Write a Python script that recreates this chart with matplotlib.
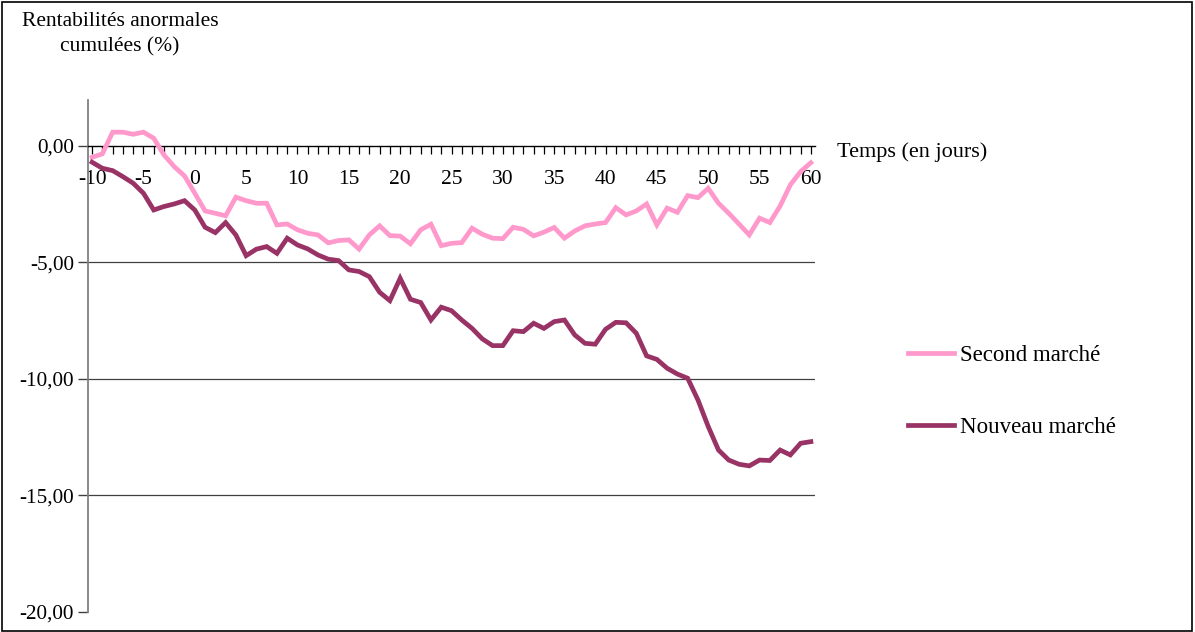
import matplotlib
matplotlib.use("Agg")
import matplotlib.pyplot as plt
from matplotlib.patches import Rectangle
import numpy as np

plt.rcParams['font.family'] = ['Liberation Serif', 'DejaVu Serif']
plt.rcParams['axes.unicode_minus'] = False

days = list(range(-10, 61))
second_marche = [
    -0.49, -0.34, 0.59, 0.59, 0.50, 0.59, 0.33, -0.39, -0.89, -1.29,
    -2.03, -2.79, -2.89, -3.00, -2.20, -2.35, -2.46, -2.46, -3.39, -3.35,
    -3.60, -3.75, -3.82, -4.16, -4.06, -4.03, -4.43, -3.82, -3.43, -3.85,
    -3.87, -4.20, -3.60, -3.36, -4.28, -4.18, -4.15, -3.53, -3.79, -3.96,
    -3.98, -3.49, -3.58, -3.86, -3.70, -3.50, -3.96, -3.65, -3.43, -3.35,
    -3.29, -2.65, -2.96, -2.79, -2.49, -3.39, -2.67, -2.85, -2.13, -2.22,
    -1.82, -2.46, -2.89, -3.35, -3.82, -3.10, -3.29, -2.58, -1.67, -1.10,
    -0.72]
nouveau_marche = [
    -0.70, -0.96, -1.06, -1.32, -1.60, -2.03, -2.75, -2.60, -2.49, -2.35,
    -2.75, -3.49, -3.72, -3.29, -3.82, -4.71, -4.43, -4.32, -4.61, -3.96,
    -4.25, -4.42, -4.68, -4.86, -4.92, -5.32, -5.39, -5.61, -6.28, -6.64,
    -5.68, -6.58, -6.72, -7.47, -6.92, -7.07, -7.47, -7.83, -8.28, -8.57,
    -8.57, -7.93, -7.97, -7.61, -7.83, -7.54, -7.47, -8.11, -8.47, -8.51,
    -7.87, -7.57, -7.59, -8.04, -9.01, -9.16, -9.54, -9.79, -9.97, -10.90,
    -12.04, -13.05, -13.48, -13.66, -13.73, -13.48, -13.50, -13.05, -13.26, -12.76,
    -12.69]
y_ticks = [0, -5, -10, -15, -20]
x_label_ticks = [-10, -5, 0, 5, 10, 15, 20, 25, 30, 35, 40, 45, 50, 55, 60]

pink = '#FF99CC'
plum = '#993366'

W, H = 1195, 632
fig = plt.figure(figsize=(W / 100, H / 100), dpi=100)
ax = fig.add_axes([88 / W, (H - 612) / H, (815 - 88) / W, (612 - 100) / H])

for s in ['top', 'right']:
    ax.spines[s].set_visible(False)
ax.spines['bottom'].set_position(('data', 0))
ax.spines['bottom'].set_color('black')
ax.spines['bottom'].set_linewidth(1.0)
ax.spines['left'].set_color('#808080')
ax.spines['left'].set_linewidth(1.3)

ax.plot(days, second_marche, color=pink, lw=3.4, label='Second marché',
        solid_joinstyle='miter', zorder=3)
ax.plot(days, nouveau_marche, color=plum, lw=3.4, label='Nouveau marché',
        solid_joinstyle='miter', zorder=3)

ax.set_xlim(-10.4, 60.4)
ax.set_ylim(-20, 1.97)

for v in [-5, -10, -15]:
    ax.axhline(v, color='#404040', lw=0.9, zorder=1)

ax.set_xticks(days)
ax.set_xticklabels([str(d) if d in x_label_ticks else '' for d in days])
ax.tick_params(axis='x', direction='out', length=6, width=0.9, color='black',
               pad=11, labelsize=15.5)

ax.set_yticks(y_ticks)
ax.set_yticklabels([f"{v:.2f}".replace('.', ',') for v in y_ticks])
ax.tick_params(axis='y', direction='out', length=7, width=1.0, color='#404040',
               pad=3, labelsize=15.2)

ax.patch.set_visible(False)

fig.text(120 / W, 1 - 34 / H, 'Rentabilités anormales\ncumulées (%)',
         ha='center', va='center', fontsize=15.5, linespacing=1.45)
fig.text(837 / W, 1 - 152 / H, 'Temps (en jours)', ha='left', va='center',
         fontsize=16)

leg = fig.legend(loc='upper left', bbox_to_anchor=(899 / W, 1 - 336 / H),
                 frameon=False, fontsize=16.5, handlelength=2.0,
                 handletextpad=0.25, labelspacing=2.2, borderaxespad=0)

fig.patches.append(Rectangle((2 / W, 1 / H), (W - 5) / W, (H - 3) / H,
                             transform=fig.transFigure, fill=False,
                             edgecolor='black', lw=1.2))

fig.savefig('out.png', dpi=100)
